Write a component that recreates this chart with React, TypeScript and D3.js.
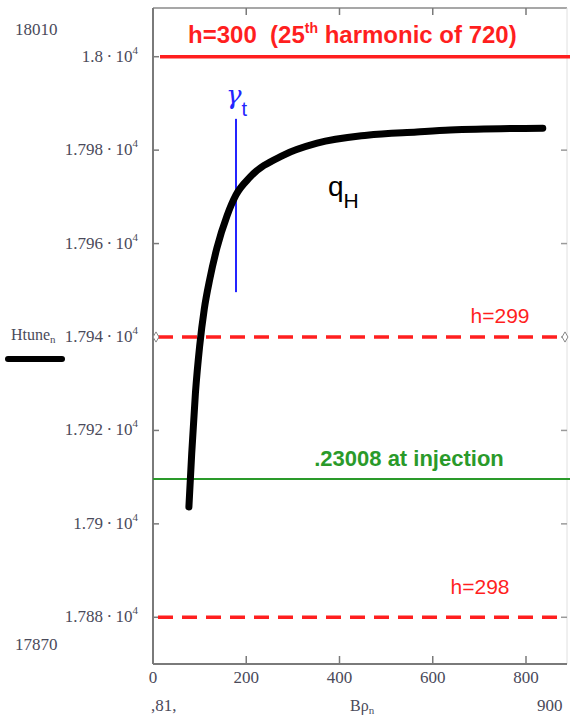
import * as d3 from "d3";

const WIDTH = 570;
const HEIGHT = 717;

// Mathcad-style frame (pixels)
const FRAME = { left: 153, top: 8, right: 567, bottom: 664 };

// q_H curve: B rho vs horizontal tune (x 720)
const bRho = [77, 83, 91, 100, 110, 122, 137, 159, 178, 208, 279, 352, 459, 566, 637, 836];
const htune = [
  17903.6, 17915, 17928, 17938, 17946, 17952.5, 17959, 17966, 17970.4,
  17974.2, 17978.9, 17981.5, 17983.2, 17983.9, 17984.3, 17984.7,
];

// harmonic lines
const harmonicNumbers = [300, 299, 298];
const harmonicValues = [18000, 17940, 17880];

const injectionTune = 17909.6;
const gammaT = 178;
const gammaSpan = [17949.6, 17986.7];

const xTicks = [0, 200, 400, 600, 800];
const yTicks = [17880, 17900, 17920, 17940, 17960, 17980, 18000];
const xLimitLabels = [",81,", "900"];
const yLimitLabels = ["18010", "17870"];

const xScale = d3.scaleLinear().domain([0, 800]).range([153, 526]);
const yScale = d3.scaleLinear().domain([17870, 18010]).range([664, 10]);

const TICK_FONT = "'Liberation Serif', 'DejaVu Serif', serif";
const SANS = "'Liberation Sans', Arial, sans-serif";
const TICK_COLOR = "#4a4a5a";
const RED = "#ff1f1f";
const GREEN = "#2a9a2a";
const BLUE = "#2424ff";

const fmtMantissa = (v: number) => String(+(v / 1e4).toFixed(4));

export default function App() {
  const curve = d3
    .line<number>()
    .x((d) => xScale(d))
    .y((_, i) => yScale(htune[i]))
    .curve(d3.curveMonotoneX)(bRho);

  const diamond = d3.symbol(d3.symbolDiamond, 30)();

  return (
    <div style={{ position: "absolute", left: 0, top: 0 }}>
      <svg width={WIDTH} height={HEIGHT} style={{ display: "block", background: "#fff" }}>
        {/* frame */}
        <line x1={FRAME.left} x2={FRAME.right} y1={FRAME.top} y2={FRAME.top} stroke="#8a8a8a" strokeWidth={1.5} />
        <line x1={FRAME.right} x2={FRAME.right} y1={FRAME.top} y2={FRAME.bottom} stroke="#e0e0e0" strokeWidth={1} />
        <line x1={FRAME.left} x2={FRAME.left} y1={FRAME.top} y2={FRAME.bottom} stroke="#7a7a7a" strokeWidth={2} />
        <line x1={FRAME.left} x2={FRAME.right} y1={FRAME.bottom} y2={FRAME.bottom} stroke="#7a7a7a" strokeWidth={2} />

        {/* x ticks, bottom and top */}
        {xTicks.map((t) => (
          <g key={t}>
            {t > 0 && (
              <>
                <line x1={xScale(t)} x2={xScale(t)} y1={FRAME.bottom} y2={FRAME.bottom - 8} stroke="#7a7a7a" strokeWidth={1.5} />
                <line x1={xScale(t)} x2={xScale(t)} y1={FRAME.top} y2={FRAME.top + 7} stroke="#7a7a7a" strokeWidth={1.5} />
              </>
            )}
            <text
              x={xScale(t)}
              y={683}
              textAnchor="middle"
              fontFamily={TICK_FONT}
              fontSize={17}
              fill={TICK_COLOR}
            >
              {t}
            </text>
          </g>
        ))}

        {/* y ticks, left and right */}
        {yTicks.map((t) => (
          <g key={t}>
            <line x1={FRAME.left} x2={FRAME.left + 6} y1={yScale(t)} y2={yScale(t)} stroke="#7a7a7a" strokeWidth={1.5} />
            <line x1={FRAME.right} x2={FRAME.right - 6} y1={yScale(t)} y2={yScale(t)} stroke="#9a9a9a" strokeWidth={1.5} />
            <text
              x={138}
              y={yScale(t) + 5}
              textAnchor="end"
              fontFamily={TICK_FONT}
              fontSize={17}
              fill={TICK_COLOR}
            >
              {fmtMantissa(t)}{"\u2009·\u2009"}10
              <tspan fontSize={11} dy={-8}>
                4
              </tspan>
            </text>
          </g>
        ))}

        {/* axis limits */}
        <text x={15} y={35} fontFamily={TICK_FONT} fontSize={17} fill={TICK_COLOR}>
          {yLimitLabels[0]}
        </text>
        <text x={15} y={650} fontFamily={TICK_FONT} fontSize={17} fill={TICK_COLOR}>
          {yLimitLabels[1]}
        </text>
        <text x={151} y={711} fontFamily={TICK_FONT} fontSize={17} fill={TICK_COLOR}>
          {xLimitLabels[0]}
        </text>
        <text x={537} y={711} fontFamily={TICK_FONT} fontSize={17} fill={TICK_COLOR}>
          {xLimitLabels[1]}
        </text>

        {/* axis names and legend */}
        <text x={350} y={711} fontFamily={TICK_FONT} fontSize={16} fill={TICK_COLOR}>
          Bρ
          <tspan fontSize={11} dy={3}>
            n
          </tspan>
        </text>
        <text x={11} y={340} fontFamily={TICK_FONT} fontSize={16} fill={TICK_COLOR}>
          Htune
          <tspan fontSize={11} dy={3}>
            n
          </tspan>
        </text>
        <line x1={8} x2={62} y1={359} y2={359} stroke="#000" strokeWidth={6} strokeLinecap="round" />

        {/* harmonic lines */}
        {harmonicNumbers.map((h, i) => (
          <line
            key={h}
            x1={i === 0 ? 160 : 158}
            x2={i === 0 ? WIDTH : 563}
            y1={yScale(harmonicValues[i])}
            y2={yScale(harmonicValues[i])}
            stroke={RED}
            strokeWidth={3.5}
            strokeDasharray={i === 0 ? undefined : "15 9"}
          />
        ))}
        <path d={diamond ?? ""} transform={`translate(${FRAME.left + 3},${yScale(harmonicValues[1])})`} fill="#fff" stroke="#888" strokeWidth={1} />
        <path d={diamond ?? ""} transform={`translate(${FRAME.right - 2},${yScale(harmonicValues[1])})`} fill="#fff" stroke="#888" strokeWidth={1} />

        <text x={188} y={43} fontFamily={SANS} fontWeight="bold" fontSize={24} fill={RED}>
          h={harmonicNumbers[0]}{"\u00a0\u00a0"}(25
          <tspan fontSize={14} dy={-10}>
            th
          </tspan>
          <tspan dy={10}> harmonic of 720)</tspan>
        </text>
        <text x={500} y={yScale(harmonicValues[1]) - 14} textAnchor="middle" fontFamily={SANS} fontSize={21} fill={RED}>
          h={harmonicNumbers[1]}
        </text>
        <text x={480} y={yScale(harmonicValues[2]) - 23} textAnchor="middle" fontFamily={SANS} fontSize={21} fill={RED}>
          h={harmonicNumbers[2]}
        </text>

        {/* injection tune */}
        <line x1={FRAME.left} x2={WIDTH} y1={yScale(injectionTune)} y2={yScale(injectionTune)} stroke={GREEN} strokeWidth={2} />
        <text x={409} y={yScale(injectionTune) - 13} textAnchor="middle" fontFamily={SANS} fontWeight="bold" fontSize={22} fill={GREEN}>
          .23008 at injection
        </text>

        {/* transition energy */}
        <line
          x1={xScale(gammaT)}
          x2={xScale(gammaT)}
          y1={yScale(gammaSpan[0])}
          y2={yScale(gammaSpan[1])}
          stroke={BLUE}
          strokeWidth={2}
        />
        <text x={226} y={104} fontFamily={"'DejaVu Serif', serif"} fontStyle="italic" fontSize={26} fill={BLUE}>
          γ
          <tspan fontFamily={SANS} fontStyle="normal" fontSize={20} dy={12}>
            t
          </tspan>
        </text>

        {/* tune curve */}
        <path d={curve ?? ""} fill="none" stroke="#000" strokeWidth={7} strokeLinecap="round" strokeLinejoin="round" />
        <text x={328} y={196} fontFamily={SANS} fontSize={28} fill="#000">
          q
          <tspan fontSize={21} dy={12}>
            H
          </tspan>
        </text>
      </svg>
    </div>
  );
}
